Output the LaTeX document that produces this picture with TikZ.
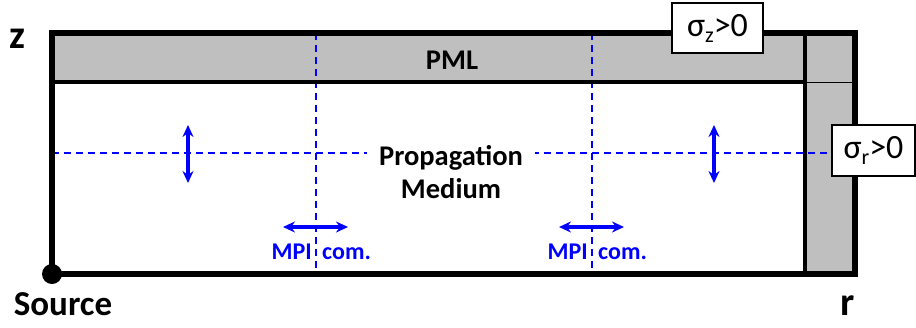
\documentclass[tikz,border=0pt]{standalone}
\usepackage{fontspec}
\setmainfont{Carlito}
\usetikzlibrary{arrows.meta,positioning}

\begin{document}
\begin{tikzpicture}[
    x=1pt,y=-1pt,
    pml/.style={fill=black!25},
    frame/.style={line width=5.5pt},
    wall/.style={line width=4pt},
    cut/.style={blue,line width=1.4pt,dash pattern=on 7pt off 5pt},
    arrow/.style={blue,line width=3.2pt,{Stealth[length=12pt,width=11pt]}-{Stealth[length=12pt,width=11pt]}},
    txt/.style={font=\bfseries\fontsize{28.5}{33}\selectfont,align=center},
    axis/.style={font=\bfseries\fontsize{40}{44}\selectfont,inner sep=0pt},
    mpi/.style={font=\bfseries\fontsize{24}{28}\selectfont,text=blue,inner sep=0pt},
    cond/.style={draw,fill=white,line width=1.3pt,font=\fontsize{34}{36}\selectfont,inner sep=0pt}
]
\useasboundingbox (0,0) rectangle (916,327);

% corners of the domain
\coordinate (src) at (52,274);
\coordinate (ne) at (855,33);
\coordinate (pmlw) at (52,82);
\coordinate (pmle) at (805,82);
\coordinate (pmlt) at (805,33);
\coordinate (pmlb) at (805,274);

% absorbing layers
\fill[pml] (52,33) rectangle (855,82);
\fill[pml] (pmlt) rectangle (855,274);

% MPI sub-domain cuts
\draw[cut] (316,33) -- (316,274);
\draw[cut] (592,33) -- (592,274);
\draw[cut] (52,153) -- (832,153);

\draw[frame] (src) rectangle (ne);
\draw[wall] (pmlw) -- (pmle);
\draw[wall] (pmlt) -- (pmlb);
\draw[line width=1pt] (pmle) -- (855,82);
\fill (src) circle[radius=10pt];

\node[txt] (pml) at (452,60) {PML};
\node[txt,fill=white,inner sep=12pt] (medium) at (451,172) {Propagation\\Medium};
\node[txt,font=\bfseries\fontsize{35}{38}\selectfont,inner sep=0pt] (source) at (63,304) {Source};
\node[axis] (zax) at (17,39) {z};
\node[axis] (rax) at (848,306) {r};

% exchanges between sub-domains
\draw[arrow] (188,125) -- (188,183);
\draw[arrow] (714,125) -- (714,183);
\draw[arrow] (283,227) -- (348,227);
\draw[arrow] (559,227) -- (624,227);

\node[mpi,anchor=base east] (mpil) at (312,259) {MPI};
\node[mpi,anchor=base west] (coml) at (322,259) {com.};
\node[mpi,anchor=base east] (mpir) at (588,259) {MPI};
\node[mpi,anchor=base west] (comr) at (598,259) {com.};

\node[cond,minimum width=91pt,minimum height=50pt] (sigz) at (717.5,28) {σ\raisebox{-6pt}{\fontsize{22}{24}\selectfont z}>0};
\node[cond,minimum width=83pt,minimum height=51pt] (sigr) at (873.5,150.5) {σ\raisebox{-6pt}{\fontsize{22}{24}\selectfont r}>0};
\end{tikzpicture}
\end{document}
